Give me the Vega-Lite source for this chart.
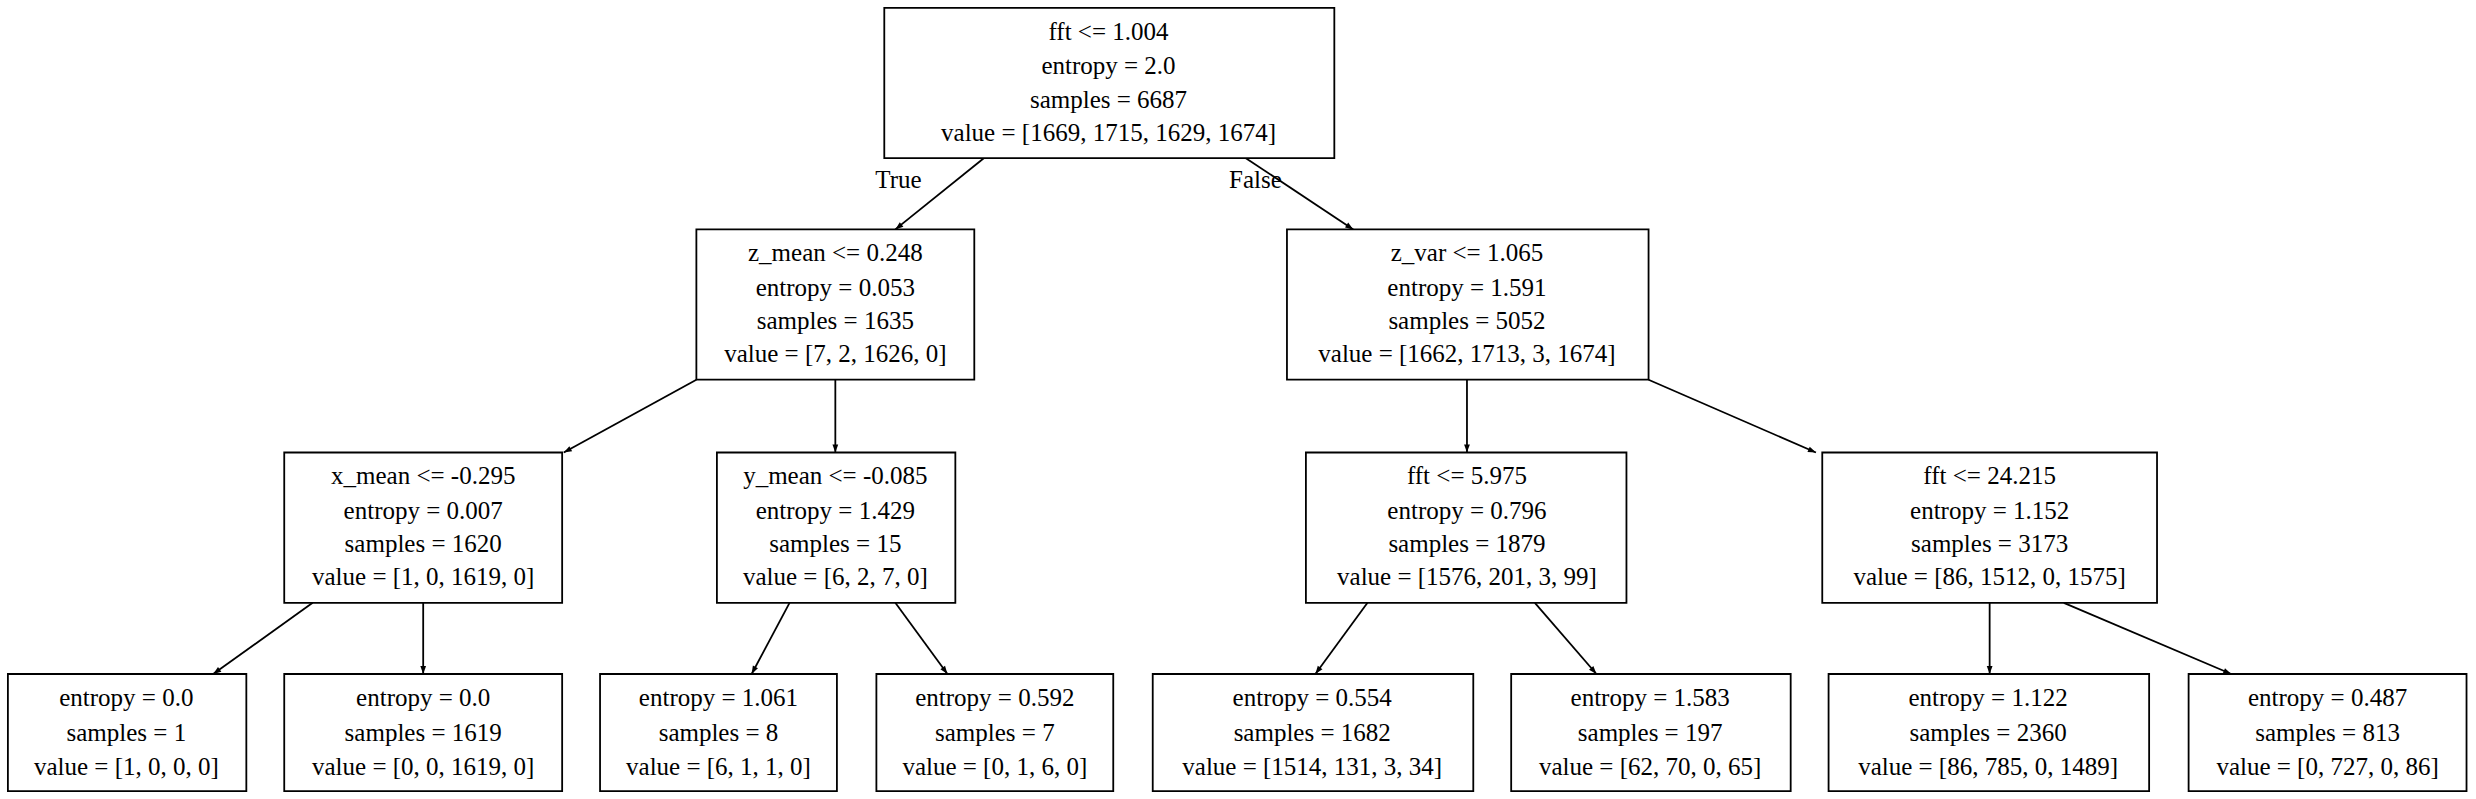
{
"$schema":"https://vega.github.io/schema/vega-lite/v6.json",
"width":2476,"height":799,"autosize":{"type":"fit","contains":"padding"},"padding":0,
"background":"white","config":{"view":{"stroke":null}},
"layer":[
{"data":{"values":[
{"x1":623,"y1":100,"x2":567,"y2":145,"a":51.2},
{"x1":789,"y1":100,"x2":857,"y2":145,"a":-56.5},
{"x1":441,"y1":240,"x2":357,"y2":286,"a":61.3},
{"x1":529,"y1":240,"x2":529,"y2":286,"a":0},
{"x1":929,"y1":240,"x2":929,"y2":286,"a":0},
{"x1":1044,"y1":240,"x2":1150,"y2":286,"a":-66.5},
{"x1":198,"y1":381,"x2":135,"y2":426,"a":54.5},
{"x1":268,"y1":381,"x2":268,"y2":426,"a":0},
{"x1":500,"y1":381,"x2":476,"y2":426,"a":28.1},
{"x1":567,"y1":381,"x2":600,"y2":426,"a":-36.3},
{"x1":866,"y1":381,"x2":833,"y2":426,"a":36.3},
{"x1":972,"y1":381,"x2":1011,"y2":426,"a":-40.9},
{"x1":1260,"y1":381,"x2":1260,"y2":426,"a":0},
{"x1":1307,"y1":381,"x2":1413,"y2":426,"a":-67}
]},
"layer":[
{"mark":{"type":"rule","color":"black","strokeWidth":1.8},
"encoding":{"x":{"field":"x1","type":"quantitative","scale":{"domain":[0,1568],"nice":false,"zero":false},"axis":null},
"y":{"field":"y1","type":"quantitative","scale":{"domain":[0,505],"reverse":true,"nice":false,"zero":false},"axis":null},
"x2":{"field":"x2"},"y2":{"field":"y2"}}},
{"mark":{"type":"point","filled":true,"color":"black","opacity":1,"size":256,"shape":"M0,0L-0.36,-1L0.36,-1Z"},
"encoding":{"x":{"field":"x2","type":"quantitative","scale":{"domain":[0,1568],"nice":false,"zero":false},"axis":null},
"y":{"field":"y2","type":"quantitative","scale":{"domain":[0,505],"reverse":true,"nice":false,"zero":false},"axis":null},
"angle":{"field":"a","type":"quantitative","scale":null}}}
]},
{"data":{"values":[
{"x1":560,"x2":845,"y1":5,"y2":100},
{"x1":441,"x2":617,"y1":145,"y2":240},
{"x1":815,"x2":1044,"y1":145,"y2":240},
{"x1":180,"x2":356,"y1":286,"y2":381},
{"x1":454,"x2":605,"y1":286,"y2":381},
{"x1":827,"x2":1030,"y1":286,"y2":381},
{"x1":1154,"x2":1366,"y1":286,"y2":381},
{"x1":5,"x2":156,"y1":426,"y2":500},
{"x1":180,"x2":356,"y1":426,"y2":500},
{"x1":380,"x2":530,"y1":426,"y2":500},
{"x1":555,"x2":705,"y1":426,"y2":500},
{"x1":730,"x2":933,"y1":426,"y2":500},
{"x1":957,"x2":1134,"y1":426,"y2":500},
{"x1":1158,"x2":1361,"y1":426,"y2":500},
{"x1":1386,"x2":1562,"y1":426,"y2":500}
]},
"mark":{"type":"rect","fill":"white","stroke":"black","strokeWidth":1.8},
"encoding":{"x":{"field":"x1","type":"quantitative","scale":{"domain":[0,1568],"nice":false,"zero":false},"axis":null},
"x2":{"field":"x2"},
"y":{"field":"y1","type":"quantitative","scale":{"domain":[0,505],"reverse":true,"nice":false,"zero":false},"axis":null},
"y2":{"field":"y2"}}},
{"data":{"values":[
{"x":702,"y":20,"t":"fft <= 1.004"},{"x":702,"y":42,"t":"entropy = 2.0"},{"x":702,"y":63,"t":"samples = 6687"},{"x":702,"y":84,"t":"value = [1669, 1715, 1629, 1674]"},
{"x":569,"y":114,"t":"True"},{"x":795,"y":114,"t":"False"},
{"x":529,"y":160,"t":"z_mean <= 0.248"},{"x":529,"y":182,"t":"entropy = 0.053"},{"x":529,"y":203,"t":"samples = 1635"},{"x":529,"y":224,"t":"value = [7, 2, 1626, 0]"},
{"x":929,"y":160,"t":"z_var <= 1.065"},{"x":929,"y":182,"t":"entropy = 1.591"},{"x":929,"y":203,"t":"samples = 5052"},{"x":929,"y":224,"t":"value = [1662, 1713, 3, 1674]"},
{"x":268,"y":301,"t":"x_mean <= -0.295"},{"x":268,"y":323,"t":"entropy = 0.007"},{"x":268,"y":344,"t":"samples = 1620"},{"x":268,"y":365,"t":"value = [1, 0, 1619, 0]"},
{"x":529,"y":301,"t":"y_mean <= -0.085"},{"x":529,"y":323,"t":"entropy = 1.429"},{"x":529,"y":344,"t":"samples = 15"},{"x":529,"y":365,"t":"value = [6, 2, 7, 0]"},
{"x":929,"y":301,"t":"fft <= 5.975"},{"x":929,"y":323,"t":"entropy = 0.796"},{"x":929,"y":344,"t":"samples = 1879"},{"x":929,"y":365,"t":"value = [1576, 201, 3, 99]"},
{"x":1260,"y":301,"t":"fft <= 24.215"},{"x":1260,"y":323,"t":"entropy = 1.152"},{"x":1260,"y":344,"t":"samples = 3173"},{"x":1260,"y":365,"t":"value = [86, 1512, 0, 1575]"},
{"x":80,"y":441,"t":"entropy = 0.0"},{"x":80,"y":463,"t":"samples = 1"},{"x":80,"y":485,"t":"value = [1, 0, 0, 0]"},
{"x":268,"y":441,"t":"entropy = 0.0"},{"x":268,"y":463,"t":"samples = 1619"},{"x":268,"y":485,"t":"value = [0, 0, 1619, 0]"},
{"x":455,"y":441,"t":"entropy = 1.061"},{"x":455,"y":463,"t":"samples = 8"},{"x":455,"y":485,"t":"value = [6, 1, 1, 0]"},
{"x":630,"y":441,"t":"entropy = 0.592"},{"x":630,"y":463,"t":"samples = 7"},{"x":630,"y":485,"t":"value = [0, 1, 6, 0]"},
{"x":831,"y":441,"t":"entropy = 0.554"},{"x":831,"y":463,"t":"samples = 1682"},{"x":831,"y":485,"t":"value = [1514, 131, 3, 34]"},
{"x":1045,"y":441,"t":"entropy = 1.583"},{"x":1045,"y":463,"t":"samples = 197"},{"x":1045,"y":485,"t":"value = [62, 70, 0, 65]"},
{"x":1259,"y":441,"t":"entropy = 1.122"},{"x":1259,"y":463,"t":"samples = 2360"},{"x":1259,"y":485,"t":"value = [86, 785, 0, 1489]"},
{"x":1474,"y":441,"t":"entropy = 0.487"},{"x":1474,"y":463,"t":"samples = 813"},{"x":1474,"y":485,"t":"value = [0, 727, 0, 86]"}
]},
"mark":{"type":"text","font":"Liberation Serif","fontSize":25,"color":"black","align":"center","baseline":"middle"},
"encoding":{"x":{"field":"x","type":"quantitative","scale":{"domain":[0,1568],"nice":false,"zero":false},"axis":null},
"y":{"field":"y","type":"quantitative","scale":{"domain":[0,505],"reverse":true,"nice":false,"zero":false},"axis":null},
"text":{"field":"t"}}}
]}
